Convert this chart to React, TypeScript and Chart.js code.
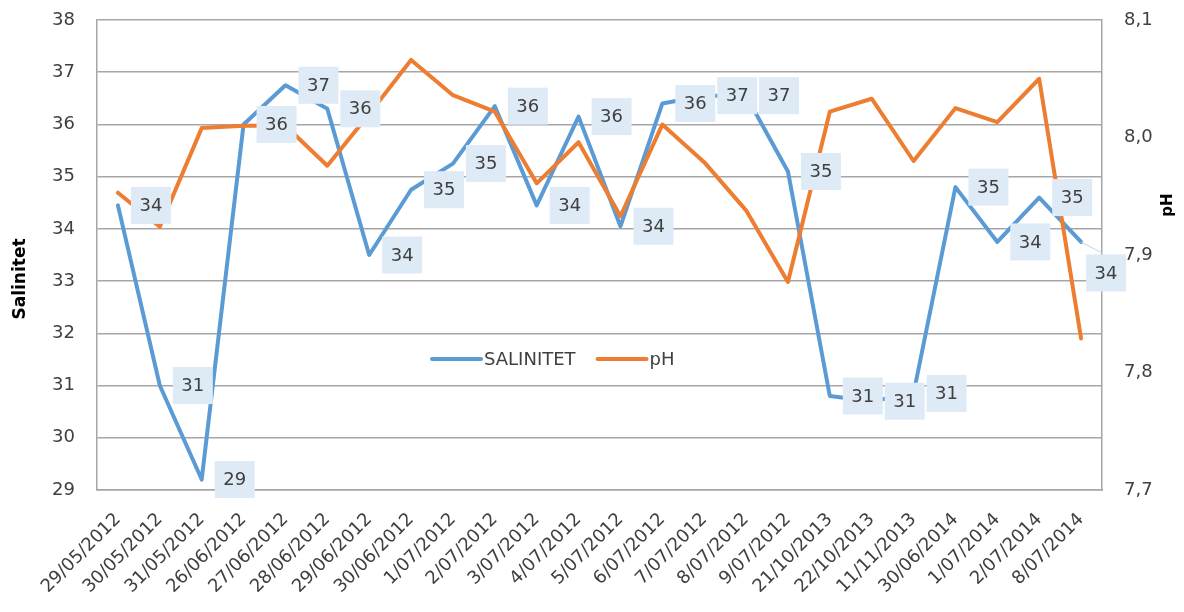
import { useEffect, useRef } from 'react';
import { Chart, registerables } from 'chart.js';

Chart.register(...registerables);

const categories = [
  '29/05/2012', '30/05/2012', '31/05/2012', '26/06/2012', '27/06/2012', '28/06/2012',
  '29/06/2012', '30/06/2012', '1/07/2012', '2/07/2012', '3/07/2012', '4/07/2012',
  '5/07/2012', '6/07/2012', '7/07/2012', '8/07/2012', '9/07/2012', '21/10/2013',
  '22/10/2013', '11/11/2013', '30/06/2014', '1/07/2014', '2/07/2014', '8/07/2014',
];

const salinitet = [
  34.45, 31.0, 29.2, 36.0, 36.75, 36.3, 33.5, 34.75, 35.25, 36.35, 34.45, 36.15,
  34.05, 36.4, 36.55, 36.55, 35.1, 30.8, 30.7, 30.85, 34.8, 33.75, 34.6, 33.75,
];

const ph = [
  7.953, 7.924, 8.008, 8.01, 8.01, 7.976, 8.02, 8.066, 8.036, 8.022, 7.961, 7.996,
  7.933, 8.011, 7.979, 7.938, 7.877, 8.022, 8.033, 7.98, 8.025, 8.013, 8.05, 7.829,
];

const seriesNames = ['SALINITET', 'pH'];
const axisTitles = ['Salinitet', 'pH'];

const BLUE = '#5B9BD5';
const ORANGE = '#ED7D31';
const GRID = '#A6A6A6';
const TEXT = '#404040';
const FONT = '"DejaVu Sans"';

const dataLabelPlugin = {
  id: 'salLabels',
  afterDatasetsDraw(chart: any) {
    const meta = chart.getDatasetMeta(0);
    const ctx = chart.ctx;
    ctx.save();
    ctx.font = `18px ${FONT}`;
    ctx.textAlign = 'center';
    ctx.textBaseline = 'middle';
    const n = meta.data.length;
    meta.data.forEach((pt: any, i: number) => {
      const last = i === n - 1;
      const cx = pt.x + (last ? 25 : 33);
      const cy = pt.y + (last ? 31 : 0);
      if (last) {
        ctx.strokeStyle = '#C5D3E3';
        ctx.lineWidth = 1;
        ctx.beginPath();
        ctx.moveTo(pt.x, pt.y);
        ctx.lineTo(cx - 4, cy - 20);
        ctx.stroke();
      }
      ctx.fillStyle = '#DEEAF6';
      ctx.fillRect(cx - 20, cy - 18.5, 40, 37);
      ctx.fillStyle = TEXT;
      ctx.fillText(String(Math.round(salinitet[i])), cx, cy + 1);
    });
    ctx.restore();
  },
};

const decorPlugin = {
  id: 'decor',
  afterDraw(chart: any) {
    const ctx = chart.ctx;
    const area = chart.chartArea;
    ctx.save();
    ctx.fillStyle = '#000';
    ctx.textAlign = 'center';
    ctx.textBaseline = 'middle';
    ctx.font = `bold 17px ${FONT}`;
    ctx.translate(21, 279);
    ctx.rotate(-Math.PI / 2);
    ctx.fillText(axisTitles[0], 0, 0);
    ctx.setTransform(1, 0, 0, 1, 0, 0);
    ctx.font = `bold 15px ${FONT}`;
    ctx.translate(1168, 205);
    ctx.rotate(-Math.PI / 2);
    ctx.fillText(axisTitles[1], 0, 0);
    ctx.setTransform(1, 0, 0, 1, 0, 0);
    const ly = area.top + 339;
    let lx = area.left + 335;
    const colors = [BLUE, ORANGE];
    ctx.font = `18px ${FONT}`;
    ctx.textAlign = 'left';
    seriesNames.forEach((name, i) => {
      ctx.strokeStyle = colors[i];
      ctx.lineWidth = 4;
      ctx.lineCap = 'round';
      ctx.beginPath();
      ctx.moveTo(lx, ly);
      ctx.lineTo(lx + 49, ly);
      ctx.stroke();
      ctx.fillStyle = TEXT;
      ctx.fillText(name, lx + 52, ly + 1);
      lx += 52 + ctx.measureText(name).width + 22;
    });
    ctx.restore();
  },
};

const zeroPad = (s: any) => {
  s.paddingTop = 0;
  s.paddingBottom = 0;
  s.paddingLeft = 0;
  s.paddingRight = 0;
};

export default function App() {
  const ref = useRef<HTMLCanvasElement>(null);
  useEffect(() => {
    document.body.style.margin = '0';
    const chart = new Chart(ref.current as HTMLCanvasElement, {
      type: 'line',
      data: {
        labels: categories,
        datasets: [
          {
            label: seriesNames[0],
            data: salinitet,
            yAxisID: 'y',
            borderColor: BLUE,
            backgroundColor: BLUE,
            borderWidth: 4,
            pointRadius: 0,
            borderJoinStyle: 'round',
            borderCapStyle: 'round',
            tension: 0,
            order: 2,
          },
          {
            label: seriesNames[1],
            data: ph,
            yAxisID: 'y1',
            borderColor: ORANGE,
            backgroundColor: ORANGE,
            borderWidth: 4,
            pointRadius: 0,
            borderJoinStyle: 'round',
            borderCapStyle: 'round',
            tension: 0,
            order: 1,
          },
        ],
      },
      options: {
        animation: false,
        responsive: false,
        layout: { padding: { top: 20, left: 0, right: 0, bottom: 0 } },
        plugins: {
          legend: { display: false },
          tooltip: { enabled: false },
        },
        scales: {
          x: {
            offset: true,
            grid: { display: false },
            border: { display: true, color: GRID, width: 1.5 },
            ticks: {
              autoSkip: false,
              maxRotation: 45,
              minRotation: 45,
              color: TEXT,
              font: { family: FONT, size: 18 },
              padding: 11,
            },
            afterFit: (s: any) => { s.height = 122; zeroPad(s); },
          },
          y: {
            position: 'left',
            min: 29,
            max: 38,
            ticks: {
              stepSize: 1,
              color: TEXT,
              font: { family: FONT, size: 18 },
              padding: 22,
            },
            grid: { color: GRID, lineWidth: 1.5, drawTicks: false },
            border: { display: true, color: GRID, width: 1.5 },
            afterFit: (s: any) => { s.width = 97; zeroPad(s); },
          },
          y1: {
            position: 'right',
            min: 7.7,
            max: 8.1,
            ticks: {
              stepSize: 0.1,
              color: TEXT,
              font: { family: FONT, size: 18 },
              padding: 22,
              callback: (v: any) => Number(v).toFixed(1).replace('.', ','),
            },
            grid: { display: false, drawTicks: false },
            border: { display: true, color: GRID, width: 1.5 },
            afterFit: (s: any) => { s.width = 82; zeroPad(s); },
          },
        },
      },
      plugins: [dataLabelPlugin, decorPlugin],
    } as any);
    return () => chart.destroy();
  }, []);
  return <canvas ref={ref} width={1184} height={612} style={{ display: 'block' }} />;
}
